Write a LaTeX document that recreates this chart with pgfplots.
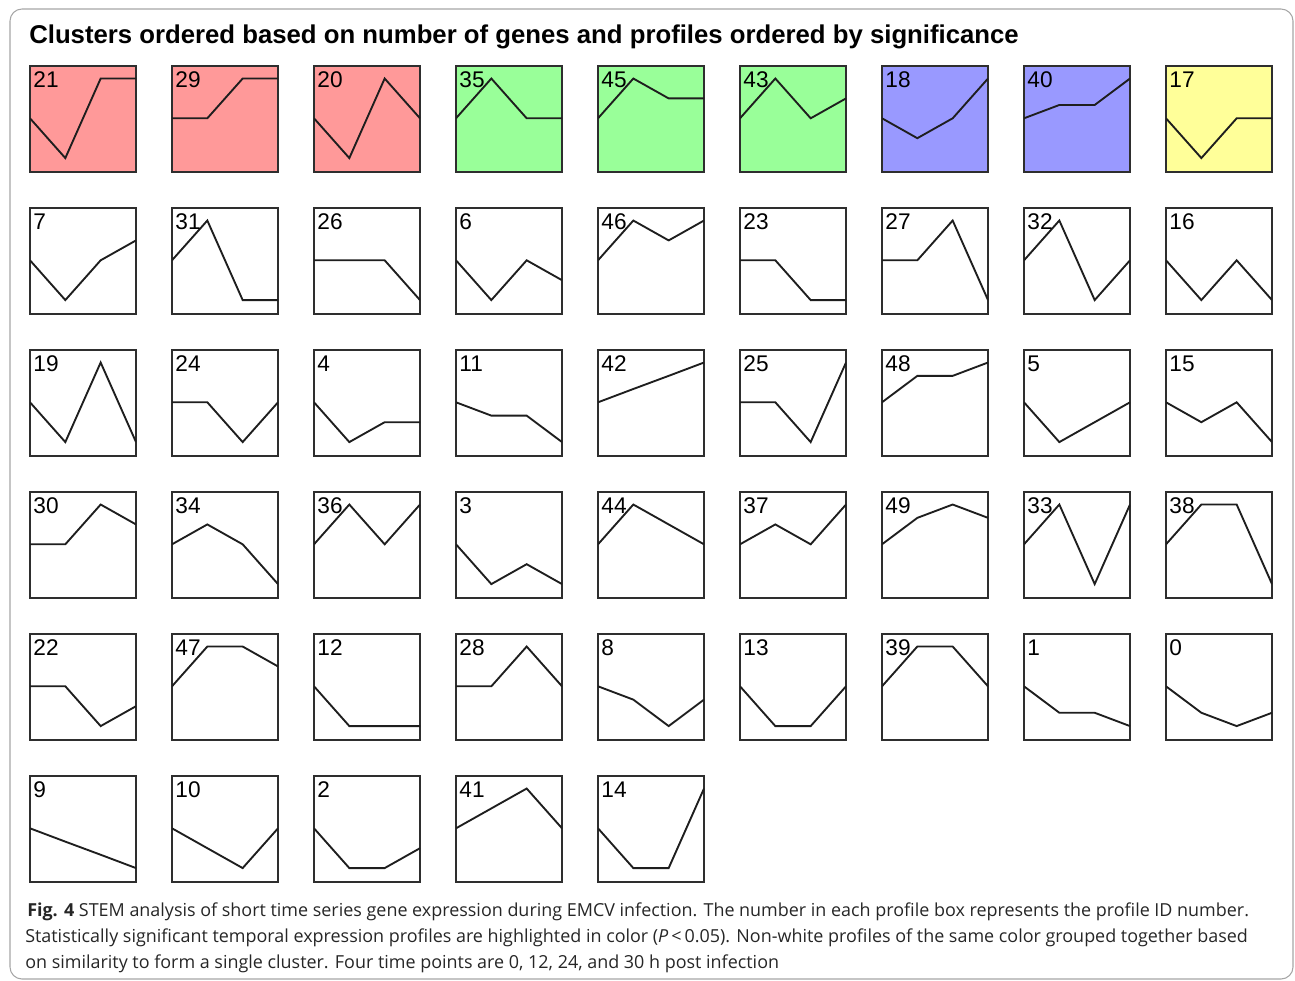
\documentclass[border=0pt]{standalone}
\usepackage{pgfplots}
\pgfplotsset{compat=1.18}
\usepackage{fontspec}
\setmainfont{Liberation Sans}
\newfontfamily\capfont{Open Sans}
\definecolor{cred}{HTML}{FF9999}
\definecolor{cgreen}{HTML}{99FF99}
\definecolor{cblue}{HTML}{9999FF}
\definecolor{cyellow}{HTML}{FFFF99}
\definecolor{boxline}{HTML}{2E2E2E}
\definecolor{profline}{HTML}{1E1E1E}
\pgfplotsset{
  panelstyle/.style={
    anchor=north west,
    width=79.5pt, height=79.5pt, scale only axis,
    xmin=0, xmax=3, ymin=-2.7, ymax=2.63,
    ticks=none,
    axis line style={line width=1.3pt, draw=boxline},
  },
  profile/.style={line width=1.4pt, draw=profline, mark=none, line join=miter},
}
\newcommand{\lbl}{\fontsize{17pt}{17pt}\selectfont}
\newcommand{\panel}[5]{%
\begin{axis}[panelstyle, at={(#1pt,#2pt)}, axis background/.style={fill=#3}]
\addplot[profile] coordinates {#5};
\node[anchor=base west, inner sep=0pt, font=\lbl, xshift=2.4pt, yshift=-16.2pt] at (rel axis cs:0,1) {#4};
\end{axis}}
\begin{document}
\begin{tikzpicture}
\path (0pt,0pt) rectangle (971.25pt,-735.75pt);
\draw[gray!70, line width=0.8pt, rounded corners=9pt] (7.5pt,-6.75pt) rectangle (969.75pt,-734.25pt);
\node[anchor=base west, inner sep=0pt, font=\fontsize{19.3pt}{20pt}\selectfont\bfseries] at (21.75pt,-32.8pt) {Clusters ordered based on number of genes and profiles ordered by significance};
% row 1
\panel{22.5}{-49.5}{cred}{21}{(0,0) (1,-2) (2,2) (3,2)}
\panel{129}{-49.5}{cred}{29}{(0,0) (1,0) (2,2) (3,2)}
\panel{235.5}{-49.5}{cred}{20}{(0,0) (1,-2) (2,2) (3,0)}
\panel{342}{-49.5}{cgreen}{35}{(0,0) (1,2) (2,0) (3,0)}
\panel{448.5}{-49.5}{cgreen}{45}{(0,0) (1,2) (2,1) (3,1)}
\panel{555}{-49.5}{cgreen}{43}{(0,0) (1,2) (2,0) (3,1)}
\panel{661.5}{-49.5}{cblue}{18}{(0,0) (1,-1) (2,0) (3,2)}
\panel{768}{-49.5}{cblue}{40}{(0,0) (1,0.67) (2,0.67) (3,2)}
\panel{874.5}{-49.5}{cyellow}{17}{(0,0) (1,-2) (2,0) (3,0)}
% row 2
\panel{22.5}{-156}{white}{7}{(0,0) (1,-2) (2,0) (3,1)}
\panel{129}{-156}{white}{31}{(0,0) (1,2) (2,-2) (3,-2)}
\panel{235.5}{-156}{white}{26}{(0,0) (1,0) (2,0) (3,-2)}
\panel{342}{-156}{white}{6}{(0,0) (1,-2) (2,0) (3,-1)}
\panel{448.5}{-156}{white}{46}{(0,0) (1,2) (2,1) (3,2)}
\panel{555}{-156}{white}{23}{(0,0) (1,0) (2,-2) (3,-2)}
\panel{661.5}{-156}{white}{27}{(0,0) (1,0) (2,2) (3,-2)}
\panel{768}{-156}{white}{32}{(0,0) (1,2) (2,-2) (3,0)}
\panel{874.5}{-156}{white}{16}{(0,0) (1,-2) (2,0) (3,-2)}
% row 3
\panel{22.5}{-262.5}{white}{19}{(0,0) (1,-2) (2,2) (3,-2)}
\panel{129}{-262.5}{white}{24}{(0,0) (1,0) (2,-2) (3,0)}
\panel{235.5}{-262.5}{white}{4}{(0,0) (1,-2) (2,-1) (3,-1)}
\panel{342}{-262.5}{white}{11}{(0,0) (1,-0.67) (2,-0.67) (3,-2)}
\panel{448.5}{-262.5}{white}{42}{(0,0) (1,0.67) (2,1.33) (3,2)}
\panel{555}{-262.5}{white}{25}{(0,0) (1,0) (2,-2) (3,2)}
\panel{661.5}{-262.5}{white}{48}{(0,0) (1,1.33) (2,1.33) (3,2)}
\panel{768}{-262.5}{white}{5}{(0,0) (1,-2) (2,-1) (3,0)}
\panel{874.5}{-262.5}{white}{15}{(0,0) (1,-1) (2,0) (3,-2)}
% row 4
\panel{22.5}{-369}{white}{30}{(0,0) (1,0) (2,2) (3,1)}
\panel{129}{-369}{white}{34}{(0,0) (1,1) (2,0) (3,-2)}
\panel{235.5}{-369}{white}{36}{(0,0) (1,2) (2,0) (3,2)}
\panel{342}{-369}{white}{3}{(0,0) (1,-2) (2,-1) (3,-2)}
\panel{448.5}{-369}{white}{44}{(0,0) (1,2) (2,1) (3,0)}
\panel{555}{-369}{white}{37}{(0,0) (1,1) (2,0) (3,2)}
\panel{661.5}{-369}{white}{49}{(0,0) (1,1.33) (2,2) (3,1.33)}
\panel{768}{-369}{white}{33}{(0,0) (1,2) (2,-2) (3,2)}
\panel{874.5}{-369}{white}{38}{(0,0) (1,2) (2,2) (3,-2)}
% row 5
\panel{22.5}{-475.5}{white}{22}{(0,0) (1,0) (2,-2) (3,-1)}
\panel{129}{-475.5}{white}{47}{(0,0) (1,2) (2,2) (3,1)}
\panel{235.5}{-475.5}{white}{12}{(0,0) (1,-2) (2,-2) (3,-2)}
\panel{342}{-475.5}{white}{28}{(0,0) (1,0) (2,2) (3,0)}
\panel{448.5}{-475.5}{white}{8}{(0,0) (1,-0.67) (2,-2) (3,-0.67)}
\panel{555}{-475.5}{white}{13}{(0,0) (1,-2) (2,-2) (3,0)}
\panel{661.5}{-475.5}{white}{39}{(0,0) (1,2) (2,2) (3,0)}
\panel{768}{-475.5}{white}{1}{(0,0) (1,-1.33) (2,-1.33) (3,-2)}
\panel{874.5}{-475.5}{white}{0}{(0,0) (1,-1.33) (2,-2) (3,-1.33)}
% row 6
\panel{22.5}{-582}{white}{9}{(0,0) (1,-0.67) (2,-1.33) (3,-2)}
\panel{129}{-582}{white}{10}{(0,0) (1,-1) (2,-2) (3,0)}
\panel{235.5}{-582}{white}{2}{(0,0) (1,-2) (2,-2) (3,-1)}
\panel{342}{-582}{white}{41}{(0,0) (1,1) (2,2) (3,0)}
\panel{448.5}{-582}{white}{14}{(0,0) (1,-2) (2,-2) (3,2)}
% caption
\begin{scope}[every node/.style={anchor=base west, inner sep=0pt, font=\capfont\fontsize{13.45pt}{15pt}\selectfont, text=black!85}]
\node at (20.25pt,-687pt) {\textbf{Fig. 4} STEM analysis of short time series gene expression during EMCV infection. The number in each profile box represents the profile ID number.};
\node at (18.75pt,-706.5pt) {Statistically significant temporal expression profiles are highlighted in color (\textit{P}\,<\,0.05). Non-white profiles of the same color grouped together based};
\node at (18.75pt,-726pt) {on similarity to form a single cluster. Four time points are 0, 12, 24, and 30 h post infection};
\end{scope}
\end{tikzpicture}
\end{document}
